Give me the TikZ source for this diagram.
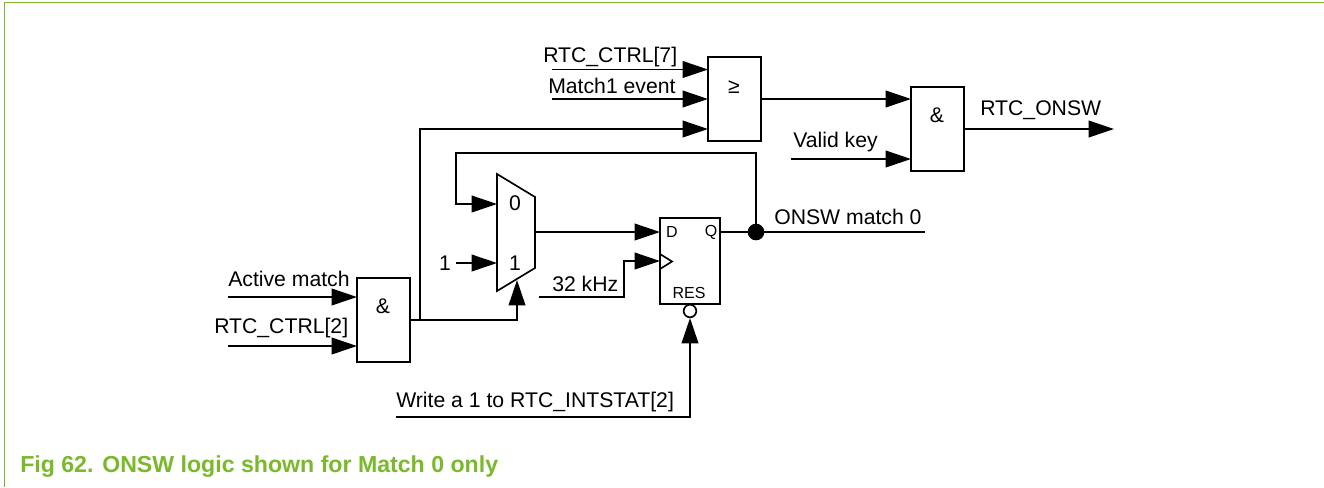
\documentclass[tikz,border=0pt]{standalone}
\usepackage{fontspec}
\setmainfont{Liberation Sans}
\usetikzlibrary{arrows.meta,positioning}
\definecolor{figgreen}{RGB}{122,185,41}
\tikzset{
  gate/.style={draw, line width=1.25pt, fill=white, inner sep=0pt, outer sep=0pt, anchor=north west},
  wire/.style={line width=1.25pt},
  arrowwire/.style={wire, -{Triangle[length=19pt,width=12.5pt]}},
  label/.style={inner sep=0pt, anchor=base west, font=\fontsize{15.9}{18}\selectfont},
  pinlabel/.style={inner sep=0pt, font=\fontsize{15.9}{18}\selectfont},
  smalllabel/.style={inner sep=0pt, font=\fontsize{12}{14}\selectfont},
  caption/.style={inner sep=0pt, anchor=base west, text=figgreen, font=\bfseries\fontsize{17.35}{20}\selectfont}
}
\begin{document}
\begin{tikzpicture}[x=0.75pt, y=-0.75pt]
  \useasboundingbox (0,0) rectangle (1324,487);
  % frame
  \draw[figgreen, line width=0.9pt] (4.5,487) -- (4.5,2.5) -- (1324,2.5);
  % gates
  \node[gate, minimum width=39.75pt, minimum height=63pt] (orgate) at (708,57) {};
  \node[gate, minimum width=39.75pt, minimum height=63pt] (keygate) at (911,87) {};
  \node[gate, minimum width=39.75pt, minimum height=63pt] (matchgate) at (357,278) {};
  \node[gate, minimum width=45pt, minimum height=64.5pt] (ff) at (660,218) {};
  \draw[line width=1.25pt, line join=miter] (497,174) -- (535,197) -- (535,268) -- (497,291) -- cycle;
  \node[draw, circle, line width=1.25pt, minimum size=9.5pt, inner sep=0pt] (resbubble) at (690,311) {};
  \node[circle, fill=black, minimum size=12.5pt, inner sep=0pt] (qdot) at (756,232) {};
  \draw[line width=1.25pt] (660,254) -- (672,261.5) -- (660,269);
  % pins
  \foreach \name/\x/\y in {ctrlseven/552/69.5, orseven/708/69.5, matchone/552/99, orone/708/99, ortwo/708/129,
    orout/761/99, keyone/911/99, validkey/791/159, keytwo/911/159, keyout/964/129, onsw/1114/129,
    active/228/297, matchone2/357/297, ctrltwo/228/346, matchtwo/357/346, matchout/410/320,
    branch/420/320, branchtop/420/129, muxsel/517/280, muxselb/517/320,
    fbtop/756/153, fbleft/456/153, fbdown/456/204, muxzero/497/204, onein/456/263, muxone/497/263,
    muxout/535/232, ffd/660/232, ffq/720/232, onswout/925/232,
    clkin/539/297, clkmid/624/297, clkup/624/261, ffclk/660/261,
    writein/396/417, writemid/690/417, writeup/690/318} {
    \coordinate (\name) at (\x,\y);
  }
  % wires
  \draw[arrowwire] (ctrlseven) -- (orseven);
  \draw[arrowwire] (matchone) -- (orone);
  \draw[arrowwire] (branch) -- (branchtop) -- (ortwo);
  \draw[arrowwire] (orout) -- (keyone);
  \draw[arrowwire] (validkey) -- (keytwo);
  \draw[arrowwire] (keyout) -- (onsw);
  \draw[arrowwire] (active) -- (matchone2);
  \draw[arrowwire] (ctrltwo) -- (matchtwo);
  \draw[arrowwire] (matchout) -- (muxselb) -- (muxsel);
  \draw[arrowwire] (qdot.center) -- (fbtop) -- (fbleft) -- (fbdown) -- (muxzero);
  \draw[arrowwire] (onein) -- (muxone);
  \draw[arrowwire] (muxout) -- (ffd);
  \draw[wire] (ffq) -- (onswout);
  \draw[arrowwire] (clkin) -- (clkmid) -- (clkup) -- (ffclk);
  \draw[arrowwire] (writein) -- (writemid) -- (writeup);
  % labels
  \node[label] (lctrlseven) at (543,62) {RTC\_CTRL[7]};
  \node[label] (lmatchone) at (548,93) {Match1 event};
  \node[label] (lvalidkey) at (793,147) {Valid key};
  \node[label] (lrtconsw) at (980,115) {RTC\_ONSW};
  \node[label] (lonswmatch) at (774,224) {ONSW match 0};
  \node[label] (lactive) at (228,286) {Active match};
  \node[label] (lctrltwo) at (214,333) {RTC\_CTRL[2]};
  \node[label] (lclk) at (552,291) {32 kHz};
  \node[label] (lwrite) at (396,407) {Write a 1 to RTC\_INTSTAT[2]};
  \node[pinlabel] (lor) at (734,87) {≥};
  \node[pinlabel] (land) at (937,115) {\&};
  \node[pinlabel] (lmatchand) at (383,306) {\&};
  \node[pinlabel] (lzero) at (515,203) {0};
  \node[pinlabel] (lone) at (515,263) {1};
  \node[pinlabel] (loneinput) at (445,263) {1};
  \node[smalllabel] (ld) at (672,232) {D};
  \node[smalllabel] (lq) at (711,232) {Q};
  \node[smalllabel] (lres) at (689,293) {RES};
  \node[caption] (figno) at (20,472) {Fig 62.};
  \node[caption] (figtitle) at (102,472) {ONSW logic shown for Match 0 only};
\end{tikzpicture}
\end{document}
